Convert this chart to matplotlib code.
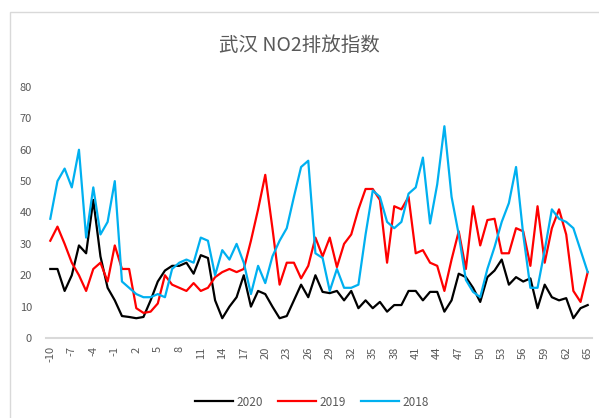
import numpy as np
import matplotlib
matplotlib.use("Agg")
import matplotlib.pyplot as plt
from matplotlib.patches import Rectangle

plt.rcParams['font.family'] = ['Noto Sans CJK SC', 'DejaVu Sans']

days = list(range(-10, 66))

y2020 = [22, 22, 15, 20, 29.5, 27, 44, 26, 16, 12, 7, 6.7, 6.3, 6.7, 12, 18, 21.5, 23, 23, 24,
         20.5, 26.4, 25.5, 12, 6.3, 10, 13, 20, 10, 15, 14, 10, 6.3, 7, 12, 17, 13, 20, 14.7, 14.3,
         15, 12, 15, 9.5, 12, 9.5, 11.5, 8.4, 10.5, 10.5, 15, 15, 12, 14.7, 14.7, 8.4, 12, 20.5, 19.4, 16,
         11.5, 19.4, 21.5, 25, 17, 19.4, 18, 19, 9.5, 17, 13, 12, 12.7, 6.3, 9.5, 10.5]

y2019 = [31, 35.5, 30, 24, 20, 15, 22, 24, 18, 29.5, 22, 22, 9.5, 8, 8.4, 11, 20, 17, 16, 15,
         17.5, 15, 16, 19.4, 21, 22, 21, 22, 31, 41, 52, 35, 17, 24, 24, 19, 23, 32, 26, 32,
         22.6, 30, 33, 41, 47.5, 47.5, 44, 24, 42, 41, 45, 27, 28, 24, 23, 15, 25, 34, 22, 42,
         29.5, 37.6, 38, 27, 27, 35, 34, 23, 42, 24, 35, 41, 33, 15, 11.5, 21]

y2018 = [38, 50, 54, 48, 60, 32, 48, 33, 37, 50, 18, 16, 14, 13, 13, 14, 13, 22, 24, 25,
         24, 32, 31, 20, 28, 25, 30, 24, 14, 23, 17.5, 26, 31, 35, 45, 54.5, 56.5, 27, 25.5, 15,
         22, 16, 16, 17, 33, 47, 45, 37, 35, 37, 46, 48, 57.5, 36.5, 49, 67.5, 45, 33, 18.5, 14.7,
         13, 22, 29, 37, 43, 54.5, 33, 16, 16, 28, 41, 38, 37, 35, 28, 21]

series = [('2020', y2020, '#000000'), ('2019', y2019, '#ff0000'), ('2018', y2018, '#00b0f0')]
tick_days = days[::3]

fig = plt.figure(figsize=(5.99, 4.18), dpi=100)
fig.patches.append(Rectangle((10 / 599, -0.1), 1.2, 1 - 12 / 418 + 0.1, transform=fig.transFigure,
                             fill=False, edgecolor='#d9d9d9', linewidth=1))

ax = fig.add_axes([46 / 599, 1 - 338 / 418, (592 - 46) / 599, (338 - 87) / 418])
for name, vals, col in series:
    ax.plot(days, vals, color=col, linewidth=1.6, label=name)

ax.set_xlim(-10.6, 65.6)
ax.set_ylim(0, 80)
ax.set_yticks(range(0, 81, 10))
ax.set_xticks(tick_days)
ax.set_xticklabels([str(d) for d in tick_days], rotation=90, va='top', ha='center')
ax.tick_params(axis='both', length=0, labelsize=8, labelcolor='#595959')
ax.tick_params(axis='y', pad=10)
ax.tick_params(axis='x', pad=6)
for s in ['top', 'right', 'left']:
    ax.spines[s].set_visible(False)
ax.spines['bottom'].set_color('#d9d9d9')
ax.spines['bottom'].set_linewidth(1.5)

fig.text(0.5, 1 - 45 / 418, '武汉 NO2排放指数', ha='center', va='center',
         fontsize=14, color='#595959')

fig.legend(loc='center', bbox_to_anchor=(312 / 599, 1 - 402 / 418), ncol=3, frameon=False,
           fontsize=8.5, labelcolor='#595959', handlelength=3.2, handletextpad=0.3,
           columnspacing=1.3)

fig.savefig('out.png', dpi=100, facecolor='white')
